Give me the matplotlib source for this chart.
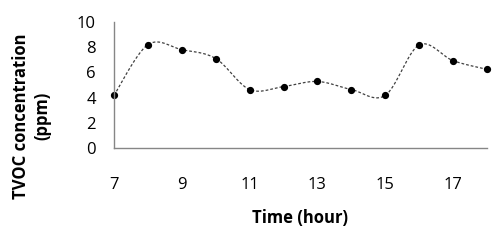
import numpy as np
import matplotlib
matplotlib.use("Agg")
import matplotlib.pyplot as plt

hours = [7, 8, 9, 10, 11, 12, 13, 14, 15, 16, 17, 18]
tvoc = [4.18, 8.2, 7.8, 7.1, 4.64, 4.88, 5.28, 4.64, 4.18, 8.18, 6.93, 6.24]
xticks = [7, 9, 11, 13, 15, 17]
yticks = [0, 2, 4, 6, 8, 10]

def smooth(x, y, n=30):
    x = np.asarray(x, float); y = np.asarray(y, float)
    px = np.concatenate([[x[0]], x, [x[-1]]])
    py = np.concatenate([[y[0]], y, [y[-1]]])
    xs, ys = [], []
    for i in range(1, len(px) - 2):
        p0 = np.array([px[i], py[i]]); p3 = np.array([px[i + 1], py[i + 1]])
        c1 = p0 + (np.array([px[i + 1], py[i + 1]]) - np.array([px[i - 1], py[i - 1]])) / 6
        c2 = p3 - (np.array([px[i + 2], py[i + 2]]) - np.array([px[i], py[i]])) / 6
        t = np.linspace(0, 1, n)[:, None]
        b = (1 - t) ** 3 * p0 + 3 * (1 - t) ** 2 * t * c1 + 3 * (1 - t) * t ** 2 * c2 + t ** 3 * p3
        xs.extend(b[:, 0]); ys.extend(b[:, 1])
    return np.array(xs), np.array(ys)

plt.rcParams['font.family'] = ['Open Sans', 'DejaVu Sans']
fig = plt.figure(figsize=(4.97, 2.42), dpi=100)
ax = fig.add_axes([114 / 497, 1 - 148 / 242, (487 - 114) / 497, (148 - 22) / 242])
sx, sy = smooth(hours, tvoc)
ax.plot(sx, sy, color='#404040', lw=0.9, ls=(0, (2.2, 1.6)))
ax.plot(hours, tvoc, 'o', color='black', ms=4.2, clip_on=False)
ax.set_xlim(7, 18)
ax.set_ylim(0, 10)
ax.set_xticks(xticks)
ax.set_yticks(yticks)
for s in ['top', 'right']:
    ax.spines[s].set_visible(False)
for s in ['left', 'bottom']:
    ax.spines[s].set_color('#868686')
    ax.spines[s].set_linewidth(1.0)
ax.tick_params(axis='x', length=0, pad=21, labelsize=12)
ax.tick_params(axis='y', length=0, pad=13, labelsize=12)
fig.text(300 / 497, 1 - 218 / 242, 'Time (hour)', ha='center', va='center', fontsize=12, fontweight='bold')
fig.text(32 / 497, 1 - 116 / 242, 'TVOC concentration\n(ppm)', ha='center', va='center', rotation=90,
         fontsize=12, fontweight='bold', linespacing=1.25)
fig.savefig('out.png', dpi=100)
